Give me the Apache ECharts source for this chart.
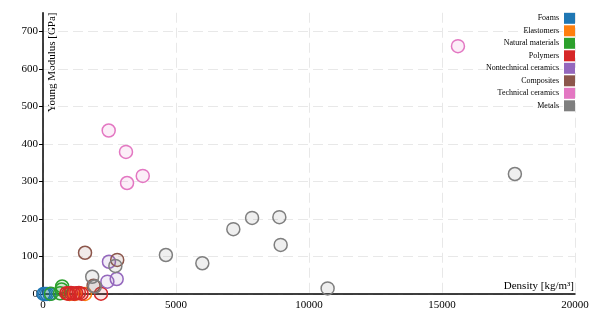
<!DOCTYPE html>
<html>
<head>
<meta charset="utf-8">
<script src="https://cdn.jsdelivr.net/npm/echarts@6/dist/echarts.min.js"></script>
<style>html,body{margin:0;padding:0;background:#fff}#c{width:600px;height:313px}</style>
</head>
<body>
<div id="c"></div>
<script>
const categories = ['Foams','Elastomers','Natural materials','Polymers','Nontechnical ceramics','Composites','Technical ceramics','Metals'];
const colors = ['#1f77b4','#ff7f0e','#2ca02c','#d62728','#9467bd','#8c564b','#e377c2','#7f7f7f'];
const foamsX = [20, 80, 150, 250];
const foamsY = [0.01, 0.05, 0.02, 0.1];
const elastomersX = [1000, 1200, 1580];
const elastomersY = [0.01, 0.05, 0.02];
const naturalX = [300, 640, 700, 720];
const naturalY = [0.5, 2, 12, 20];
const polymersX = [880, 950, 1050, 1150, 1250, 1350, 1450, 2180];
const polymersY = [2, 1, 3, 1, 2, 3, 1, 1];
const nontechX = [2420, 2480, 2770];
const nontechY = [33, 86, 40];
const compositesX = [1580, 1900, 2790];
const compositesY = [110, 22, 91];
const technicalX = [2470, 3120, 3160, 3750, 15600];
const technicalY = [436, 379, 296, 315, 661];
const metalsX = [1850, 1950, 2720, 4620, 5990, 7155, 7860, 8885, 8935, 10700, 17740];
const metalsY = [46, 20, 75, 104, 82, 173, 203, 205, 131, 15, 320];
const yTicks = [0, 100, 200, 300, 400, 500, 600, 700];

const xs = [foamsX, elastomersX, naturalX, polymersX, nontechX, compositesX, technicalX, metalsX];
const ys = [foamsY, elastomersY, naturalY, polymersY, nontechY, compositesY, technicalY, metalsY];

function rgba(hex, a){
  const n = parseInt(hex.slice(1),16);
  return 'rgba(' + ((n>>16)&255) + ',' + ((n>>8)&255) + ',' + (n&255) + ',' + a + ')';
}
const font = 'Liberation Serif';
const chart = echarts.init(document.getElementById('c'), null, {renderer:'canvas'});
chart.setOption({
  animation:false,
  textStyle:{fontFamily:font},
  grid:{left:43, right:25, top:12.75, bottom:19, containLabel:false},
  legend:{
    orient:'vertical', right:25, top:12.8, align:'right', padding:0,
    itemWidth:11, itemHeight:11, itemGap:1.5,
    textStyle:{fontFamily:font, fontSize:8, color:'#000'},
    data: categories.map((c,i)=>({name:c, icon:'rect', itemStyle:{color:colors[i], borderWidth:0, opacity:1}}))
  },
  xAxis:{
    type:'value', min:0, max:20000, interval:5000,
    axisLine:{lineStyle:{color:'#000', width:1.5}},
    axisTick:{show:false},
    axisLabel:{color:'#000', fontFamily:font, fontSize:11, margin:6, formatter:(v)=>String(v)},
    splitLine:{show:true, lineStyle:{color:'#e8e8e8', type:[10,5], width:1}}
  },
  yAxis:{
    type:'value', min:0, max:750, interval:100,
    axisLine:{show:true, lineStyle:{color:'#000', width:1.5}},
    axisTick:{show:true, length:4, lineStyle:{color:'#000'}, customValues:yTicks},
    axisLabel:{color:'#000', fontFamily:font, fontSize:11, margin:5, customValues:yTicks},
    splitLine:{show:true, lineStyle:{color:'#e8e8e8', type:[10,5], width:1}}
  },
  graphic:[
    {type:'text', x:52, y:12.5, rotation:Math.PI/2, style:{text:'Young Modulus [GPa]', fontFamily:font, fontSize:11, fill:'#000', align:'right', verticalAlign:'middle'}},
    {type:'text', x:574, y:292, style:{text:'Density [kg/m³]', fontFamily:font, fontSize:11, fill:'#000', align:'right', verticalAlign:'bottom'}}
  ],
  series: categories.map((c,i)=>({
    name:c, type:'scatter', symbol:'circle', symbolSize:13,
    itemStyle:{color:rgba(colors[i],0.12), borderColor:colors[i], borderWidth:1.5, opacity:1},
    data: xs[i].map((x,j)=>[x, ys[i][j]])
  }))
});
</script>
</body>
</html>
